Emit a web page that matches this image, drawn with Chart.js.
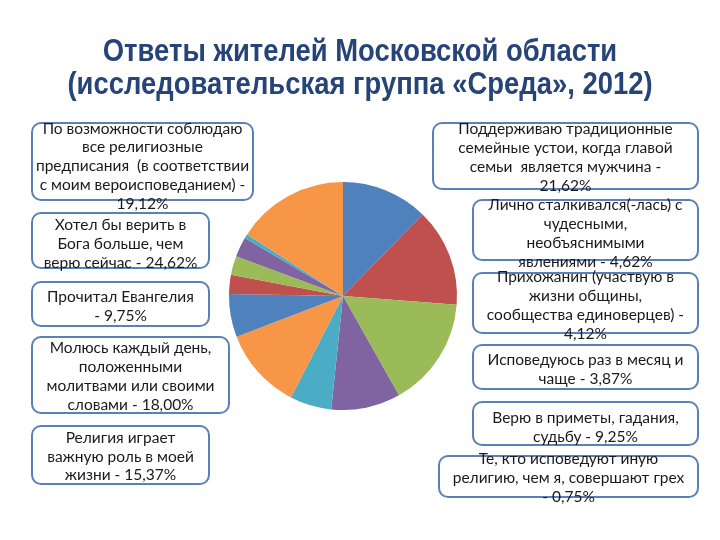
<!DOCTYPE html>
<html>
<head>
<meta charset="utf-8">
<script src="https://cdn.jsdelivr.net/npm/chart.js@4"></script>
<style>
  body { margin: 0; background: #fff; }
  #wrap { position: relative; width: 720px; height: 540px; overflow: hidden; }
  #pie { position: absolute; left: 0; top: 0; }
  .title {
    position: absolute; left: 0; width: 720px; text-align: center;
    font-family: "Liberation Sans", Arial, sans-serif;
    font-weight: bold; font-size: 31px; color: #264478; line-height: 34px;
    transform: scaleX(0.885); transform-origin: 360px 0;
  }
  .box {
    position: absolute; box-sizing: border-box;
    border: 2px solid #5b80b8; border-radius: 10px; background: #fff;
    display: flex; align-items: center; justify-content: center;
    text-align: center; font-family: Lato, "Open Sans", sans-serif;
    font-size: 15.5px; line-height: 18.8px; color: #1a1a1a; white-space: nowrap;
  }
  .box span { display: block; }
</style>
</head>
<body>
<div id="wrap">
  <canvas id="pie" width="720" height="540"></canvas>
  <div class="title" style="top:34px">Ответы жителей Московской области</div>
  <div class="title" style="top:67px">(исследовательская группа «Среда», 2012)</div>
</div>
<script>
// Доли секторов (по часовой стрелке от 12 часов)
const sliceValues = [12.3, 13.9, 15.6, 9.8, 5.9, 11.6, 6.1, 2.7, 2.7, 2.8, 0.6, 15.9];
const palette = ['#4f81bd', '#c0504d', '#9bbb59', '#8064a2', '#4bacc6', '#f79646'];
const sliceColors = sliceValues.map((v, i) => palette[i % palette.length]);

// Подписи-выноски: строки текста
const boxTexts = [
  ['По возможности соблюдаю', 'все религиозные', 'предписания&nbsp; (в соответствии', 'с моим вероисповеданием) -', '19,12%'],
  ['Хотел бы верить в', 'Бога больше, чем', 'верю сейчас - 24,62%'],
  ['Прочитал Евангелия', '- 9,75%'],
  ['Молюсь каждый день,', 'положенными', 'молитвами или своими', 'словами - 18,00%'],
  ['Религия играет', 'важную роль в моей', 'жизни - 15,37%'],
  ['Поддерживаю традиционные', 'семейные устои, когда главой', 'семьи&nbsp; является мужчина -', '21,62%'],
  ['Лично сталкивался(-лась) с', 'чудесными,', 'необъяснимыми', 'явлениями - 4,62%'],
  ['Прихожанин (участвую в', 'жизни общины,', 'сообщества единоверцев) -', '4,12%'],
  ['Исповедуюсь раз в месяц и', 'чаще - 3,87%'],
  ['Верю в приметы, гадания,', 'судьбу - 9,25%'],
  ['Те, кто исповедуют иную', 'религию, чем я, совершают грех', '- 0,75%']
];
// x, y, ширина, высота, сдвиг текста по вертикали
const boxRects = [
  [31, 122, 223, 79, 4], [31, 212, 179, 57, 3], [31, 281, 179, 46, 2],
  [31, 336, 199, 78, 1], [31, 425, 179, 60, 1],
  [432, 122, 267, 68, 1], [472, 199, 227, 62, 3], [472, 272, 227, 62, 2],
  [472, 344, 227, 46, 2], [472, 401, 227, 45, 3], [438, 455, 261, 43, 1]
];

const wrap = document.getElementById('wrap');
boxTexts.forEach((lines, i) => {
  const r = boxRects[i];
  const d = document.createElement('div');
  d.className = 'box';
  d.style.left = r[0] + 'px';
  d.style.top = r[1] + 'px';
  d.style.width = r[2] + 'px';
  d.style.height = r[3] + 'px';
  d.innerHTML = '<span style="transform:translateY(' + r[4] + 'px)">' + lines.join('<br>') + '</span>';
  wrap.appendChild(d);
});

new Chart(document.getElementById('pie'), {
  type: 'pie',
  data: {
    labels: sliceValues.map((v, i) => 'Сектор ' + (i + 1)),
    datasets: [{
      data: sliceValues,
      backgroundColor: sliceColors,
      borderWidth: 0
    }]
  },
  options: {
    responsive: false,
    animation: false,
    layout: { padding: { left: 229, right: 263, top: 182, bottom: 130 } },
    plugins: { legend: { display: false }, tooltip: { enabled: false } }
  }
});
</script>
</body>
</html>
